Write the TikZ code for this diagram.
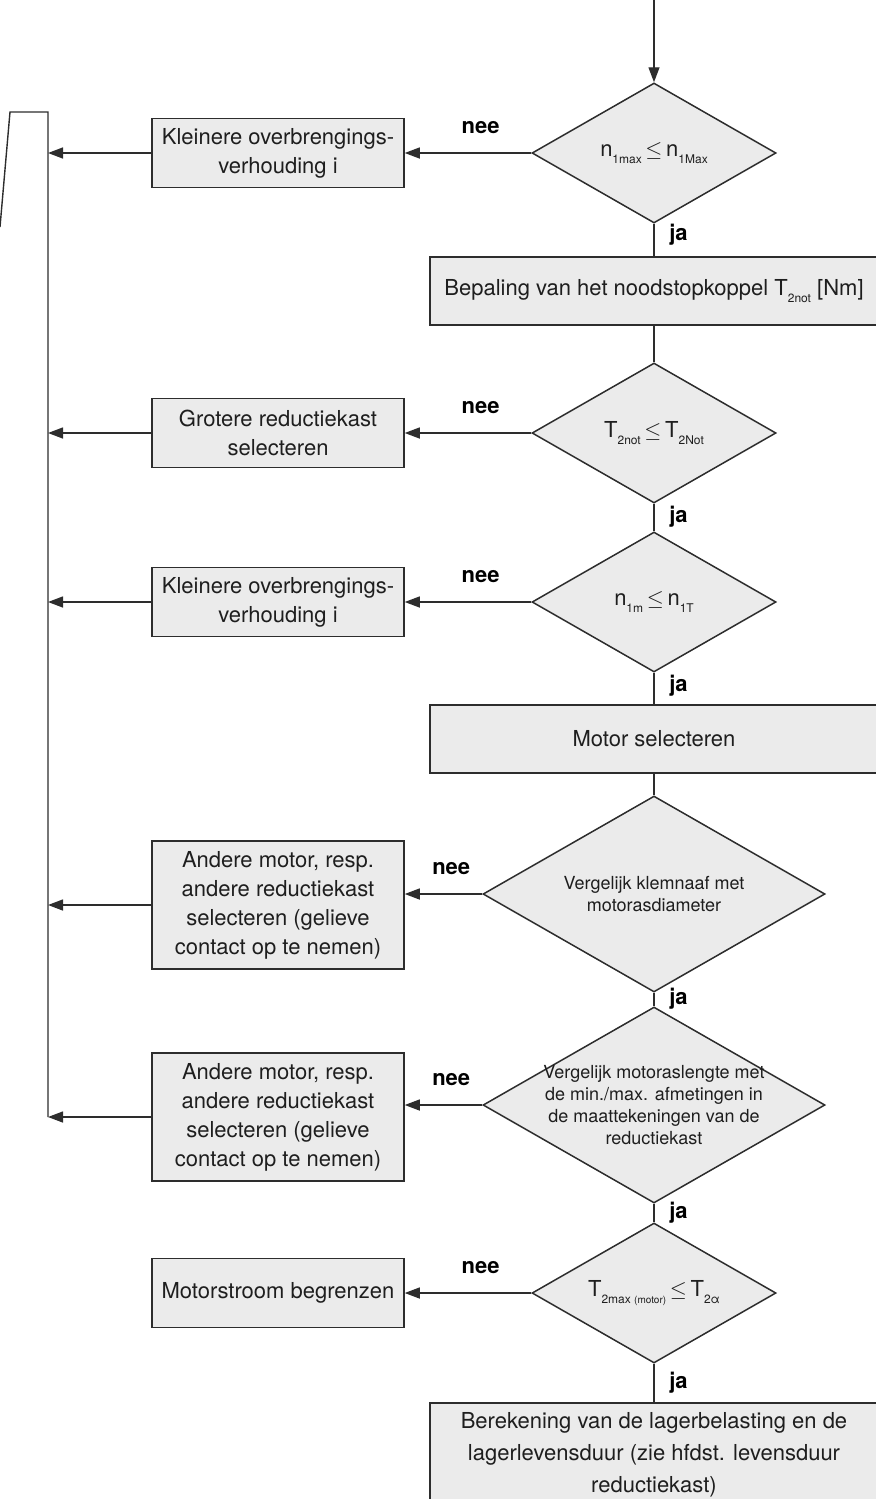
\documentclass[tikz,border=0pt]{standalone}
\usepackage{fontspec}
\setmainfont{TeX Gyre Heros}
\usepackage{xcolor}
\usepackage{tikz}
\usetikzlibrary{shapes.geometric, arrows.meta, positioning, calc}
\definecolor{mydark}{RGB}{45,45,45}
\definecolor{mytext}{RGB}{30,30,30}
\definecolor{hdrgray}{RGB}{235,235,235}
\newcommand{\subidx}[1]{\raisebox{-0.55ex}{\fontsize{6}{7}\selectfont #1}}
\tikzset{
  sidebox/.style={rectangle, draw=mydark, fill=hdrgray,
    minimum width=126pt, minimum height=34.5pt, align=center,
    font=\fontsize{11}{14.5}\selectfont, text=mytext, line width=0.75pt},
  mainbox/.style={rectangle, draw=mydark, fill=hdrgray,
    minimum width=224pt, minimum height=34pt, align=center,
    font=\fontsize{11}{14.5}\selectfont, text=mytext, line width=0.75pt},
  decision/.style={diamond, draw=mydark, fill=hdrgray, aspect=1.75,
    inner xsep=0pt, inner ysep=-20pt, align=center,
    font=\fontsize{9}{11}\selectfont, text=mytext, line width=0.75pt},
  smalldecision/.style={decision, minimum width=122pt, minimum height=70pt,
    font=\fontsize{11}{13}\selectfont},
  bigdecision/.style={decision, minimum width=171pt, minimum height=98pt},
  answer/.style={font=\fontsize{11}{13}\selectfont\bfseries, text=black},
  arrow/.style={-{Triangle[length=7.5pt, width=5.5pt]}, line width=0.7pt, color=mydark},
  line/.style={line width=0.7pt, color=mydark}
}

\begin{document}
\begin{tikzpicture}[x=0.5pt, y=-0.5pt]
  \useasboundingbox (0,0) rectangle (875,1499);

  % Main column
  \coordinate (start) at (654,0);
  \node (D1) at (654,153) [smalldecision] {n\subidx{1max}\,$\leq$\,n\subidx{1Max}};
  \node (B1) at (654,291) [mainbox] {Bepaling van het noodstopkoppel T\subidx{2not} [Nm]};
  \node (D2) at (654,433) [smalldecision] {T\subidx{2not}\,$\leq$\,T\subidx{2Not}};
  \node (D3) at (654,602) [smalldecision] {n\subidx{1m}\,$\leq$\,n\subidx{1T}};
  \node (B2) at (654,739) [mainbox] {Motor selecteren};
  \node (D4) at (654,894) [bigdecision] {Vergelijk klemnaaf met\\motorasdiameter};
  \node (D5) at (654,1105) [bigdecision] {Vergelijk motoraslengte met\\de min./max. afmetingen in\\de maattekeningen van de\\reductiekast};
  \node (D6) at (654,1293) [smalldecision] {T\subidx{2max {\fontsize{5}{6}\selectfont(motor)}}\,$\leq$\,T\subidx{2α}};
  \node (B3) at (654,1455) [mainbox, minimum height=52pt, font=\fontsize{11}{16}\selectfont]
    {Berekening van de lagerbelasting en de\\lagerlevensduur (zie hfdst. levensduur\\reductiekast)};

  % Side column
  \node (L1) at (278,153) [sidebox] {Kleinere overbrengings-\\verhouding i};
  \node (L2) at (278,433) [sidebox] {Grotere reductiekast\\selecteren};
  \node (L3) at (278,602) [sidebox] {Kleinere overbrengings-\\verhouding i};
  \node (L4) at (278,905) [sidebox, minimum height=64pt] {Andere motor, resp.\\andere reductiekast\\selecteren (gelieve\\contact op te nemen)};
  \node (L5) at (278,1117) [sidebox, minimum height=64pt] {Andere motor, resp.\\andere reductiekast\\selecteren (gelieve\\contact op te nemen)};
  \node (L6) at (278,1293) [sidebox] {Motorstroom begrenzen};

  % Return line
  \coordinate (fbtop) at (48,112);
  \coordinate (fbcorner) at (10,112);
  \coordinate (fbend) at (0,227);

  % ja branches
  \draw[arrow] (start) -- (D1.north);
  \draw[line] (D1.south) -- (B1.north) node[pos=0.35, right=4pt, answer] {ja};
  \draw[line] (B1.south) -- (D2.north);
  \draw[line] (D2.south) -- (D3.north) node[pos=0.48, right=4pt, answer] {ja};
  \draw[line] (D3.south) -- (B2.north) node[pos=0.42, right=4pt, answer] {ja};
  \draw[line] (B2.south) -- (D4.north);
  \draw[line] (D4.south) -- (D5.north) node[pos=0.45, right=4pt, answer] {ja};
  \draw[line] (D5.south) -- (D6.north) node[pos=0.5, right=4pt, answer] {ja};
  \draw[line] (D6.south) -- (B3.north) node[pos=0.5, right=4pt, answer] {ja};

  % nee branches
  \draw[arrow] (D1.west) -- (L1.east) node[pos=0.4, above=6pt, answer] {nee};
  \draw[arrow] (D2.west) -- (L2.east) node[pos=0.4, above=6pt, answer] {nee};
  \draw[arrow] (D3.west) -- (L3.east) node[pos=0.4, above=6pt, answer] {nee};
  \draw[arrow] (D4.west) -- (D4.west -| L4.east) node[pos=0.4, above=6pt, answer] {nee};
  \draw[arrow] (D5.west) -- (D5.west -| L5.east) node[pos=0.4, above=6pt, answer] {nee};
  \draw[arrow] (D6.west) -- (L6.east) node[pos=0.4, above=6pt, answer] {nee};

  % back to the start
  \draw[arrow] (L1.west) -- (L1.west -| fbtop);
  \draw[arrow] (L2.west) -- (L2.west -| fbtop);
  \draw[arrow] (L3.west) -- (L3.west -| fbtop);
  \draw[arrow] (L4.west) -- (L4.west -| fbtop);
  \draw[arrow] (L5.west) -- (L5.west -| fbtop);
  \draw[line] (L5.west -| fbtop) -- (fbtop) -- (fbcorner) -- (fbend);
\end{tikzpicture}
\end{document}
